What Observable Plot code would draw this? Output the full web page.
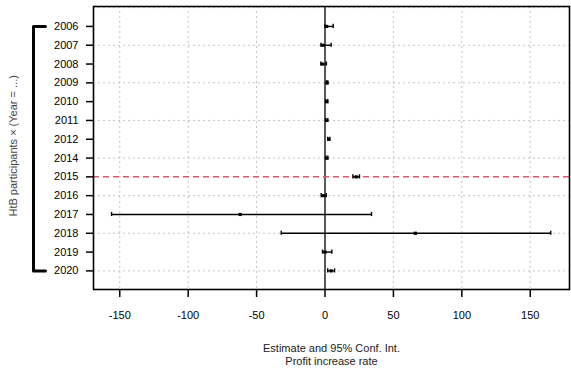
<!DOCTYPE html>
<html>
<head>
<meta charset="utf-8">
<script src="https://cdn.jsdelivr.net/npm/d3@7"></script>
<script src="https://cdn.jsdelivr.net/npm/@observablehq/plot@0.6"></script>
<style>
  html, body { margin: 0; padding: 0; background: #fff; }
</style>
</head>
<body>
<div id="chart"></div>
<script>
const years    = ["2006","2007","2008","2009","2010","2011","2012","2014","2015","2016","2017","2018","2019","2020"];
const estimate = [1.2, -1.5, -2, 1.5, 1.3, 1.3, 2.8, 1.4, 22.8, -1, -62, 66, 0, 4.5];
const ciLow    = [0, -3, -3, 1, 0.5, 0.5, 2, 0.5, 20.4, -2.8, -156, -32, -1.8, 2];
const ciHigh   = [6, 4.5, 1, 2, 2, 2, 3.5, 2, 25.2, 0.9, 34, 165, 5, 7];
const xTicks   = [-150, -100, -50, 0, 50, 100, 150];
const refYear  = "2015";
const yLabel   = "HtB participants × (Year = ...)";
const xTitle1  = "Estimate and 95% Conf. Int.";
const xTitle2  = "Profit increase rate";

const data = years.map((y, i) => ({year: y, i, est: estimate[i], lo: ciLow[i], hi: ciHigh[i]}));

const W = 571, H = 381, mL = 93, mR = 2, mT = 6, mB = 92;
const xDomain = [-169.2, 178.7];
const yDomain = [-1.06, 13.99];
const kx = (W - mL - mR) / (xDomain[1] - xDomain[0]);
const nRows = years.length;
const bracket = [
  {x: xDomain[0] + 12 / kx, y: 0},
  {x: xDomain[0], y: 0},
  {x: xDomain[0], y: nRows - 1},
  {x: xDomain[0] + 12 / kx, y: nRows - 1}
];
const gridY = d3.range(-1, nRows, 2);
const capH = 0.11;

const chart = Plot.plot({
  width: W, height: H,
  marginLeft: mL, marginRight: mR, marginTop: mT, marginBottom: mB,
  style: {fontFamily: "'Liberation Sans', Arial, sans-serif", fontSize: "11px", color: "black", background: "white"},
  x: {domain: xDomain},
  y: {domain: yDomain, reverse: true},
  marks: [
    Plot.ruleX(xTicks.filter(d => d !== 0), {stroke: "#c4c4c4", strokeWidth: 1, strokeDasharray: "2,3"}),
    Plot.ruleY(gridY, {stroke: "#c4c4c4", strokeWidth: 1, strokeDasharray: "2,3"}),
    Plot.ruleX([0], {stroke: "black", strokeWidth: 1.3}),
    Plot.ruleY([years.indexOf(refYear)], {stroke: "#DF536B", strokeWidth: 1.5, strokeDasharray: "6,4"}),
    Plot.link(data, {x1: "lo", x2: "hi", y1: "i", y2: "i", stroke: "black", strokeWidth: 1.4}),
    Plot.ruleX(data, {x: "lo", y1: d => d.i - capH, y2: d => d.i + capH, stroke: "black", strokeWidth: 1.4}),
    Plot.ruleX(data, {x: "hi", y1: d => d.i - capH, y2: d => d.i + capH, stroke: "black", strokeWidth: 1.4}),
    Plot.dot(data, {x: "est", y: "i", symbol: "square", r: 1.8, fill: "black", stroke: "none"}),
    Plot.frame({stroke: "black", strokeWidth: 1.6}),
    Plot.axisY({ticks: d3.range(nRows), tickFormat: i => years[i], tickSize: 7, tickPadding: 8, strokeWidth: 1.5, label: null, fontSize: 11}),
    Plot.axisX({ticks: xTicks, tickFormat: d => String(d), tickSize: 8, tickPadding: 14, strokeWidth: 1.5, label: null, fontSize: 11}),
    Plot.line(bracket, {x: "x", y: "y", dx: -60, stroke: "black", strokeWidth: 3, clip: false}),
    Plot.text([yLabel], {frameAnchor: "left", y: (nRows - 1) / 2 - 0.15, dx: -80, rotate: -90, fill: "#444", fontSize: 11, textAnchor: "middle"}),
    Plot.text([xTitle1], {frameAnchor: "bottom", dy: 59, fontSize: 11, fill: "#222", lineAnchor: "middle"}),
    Plot.text([xTitle2], {frameAnchor: "bottom", dy: 72, fontSize: 11, fill: "#222", lineAnchor: "middle"})
  ]
});
document.getElementById("chart").appendChild(chart);
</script>
</body>
</html>
